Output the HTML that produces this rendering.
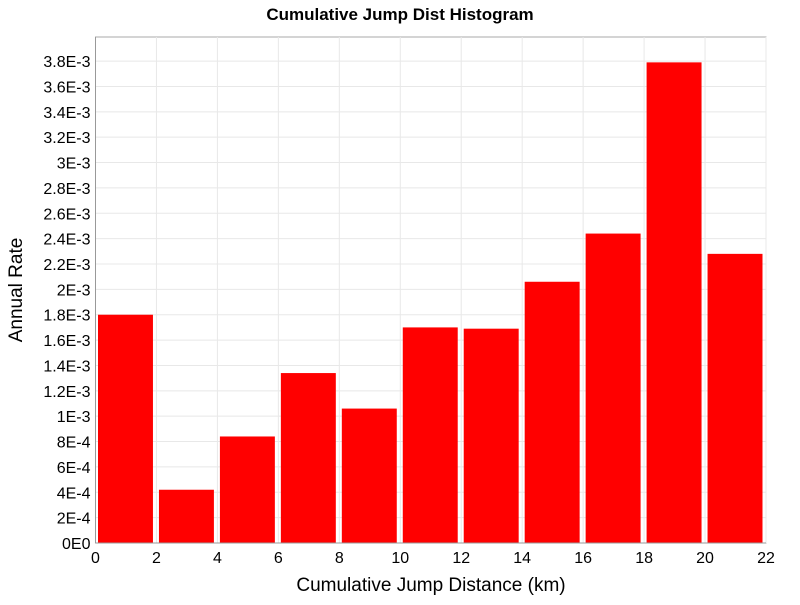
<!DOCTYPE html>
<html><head><meta charset="utf-8"><style>
body{margin:0;background:#fff;}
svg text{font-family:"Liberation Sans","DejaVu Sans",sans-serif;}
</style></head><body>
<svg id="chart" width="800" height="600" xmlns="http://www.w3.org/2000/svg">
<text x="400" y="20" text-anchor="middle" font-size="17" font-weight="bold" font-family="DejaVu Sans, sans-serif">Cumulative Jump Dist Histogram</text>
<g id="grid"></g><g id="bars"></g><g id="axes"></g>
<text x="431" y="591" text-anchor="middle" font-size="19" font-family="DejaVu Sans, sans-serif">Cumulative Jump Distance (km)</text>
<text transform="translate(22,290) rotate(-90)" text-anchor="middle" font-size="19" font-family="DejaVu Sans, sans-serif">Annual Rate</text>
</svg>
<script>
const binStarts=[0,2,4,6,8,10,12,14,16,18,20];
const binWidth=2;
const rates=[1.8e-3,0.42e-3,0.84e-3,1.34e-3,1.06e-3,1.70e-3,1.69e-3,2.06e-3,2.44e-3,3.79e-3,2.28e-3];
const xTicks=[0,2,4,6,8,10,12,14,16,18,20,22];
const yTicks=[0,2e-4,4e-4,6e-4,8e-4,1e-3,1.2e-3,1.4e-3,1.6e-3,1.8e-3,2e-3,2.2e-3,2.4e-3,2.6e-3,2.8e-3,3e-3,3.2e-3,3.4e-3,3.6e-3,3.8e-3];
const yTickLabels=["0E0","2E-4","4E-4","6E-4","8E-4","1E-3","1.2E-3","1.4E-3","1.6E-3","1.8E-3","2E-3","2.2E-3","2.4E-3","2.6E-3","2.8E-3","3E-3","3.2E-3","3.4E-3","3.6E-3","3.8E-3"];
const L=95.5,R=766,T=37,B=543,xMax=22,yMax=3.99e-3;
const NS="http://www.w3.org/2000/svg";
function xs(v){return L+(R-L)*v/xMax;}
function ys(v){return B-(B-T)*v/yMax;}
function mk(t,a,p){const e=document.createElementNS(NS,t);for(const k in a)e.setAttribute(k,a[k]);p.appendChild(e);return e;}
const grid=document.getElementById('grid'),bars=document.getElementById('bars'),axes=document.getElementById('axes');
mk('rect',{x:L,y:T,width:R-L,height:B-T,fill:'#fff',stroke:'#aaa'},grid);
xTicks.forEach(v=>{const l=mk('line',{x1:xs(v),x2:xs(v),y1:T,y2:B,stroke:'#e8e8e8'},grid);


const t=mk('text',{x:xs(v),y:B+20,'text-anchor':'middle','font-size':16},axes);t.textContent=v;

});
yTicks.forEach((v,i)=>{const l=mk('line',{x1:L,x2:R,y1:ys(v),y2:ys(v),stroke:'#e8e8e8'},grid);


const t=mk('text',{x:L-5,y:ys(v)+6,'text-anchor':'end','font-size':16},axes);t.textContent=yTickLabels[i];

});
binStarts.forEach((s,i)=>{const x0=xs(s)+2.5,x1=xs(s+binWidth)-3.5;
const r=mk('rect',{x:x0,y:ys(rates[i]),width:x1-x0,height:B-ys(rates[i]),fill:'#ff0000'},bars);

});
mk('line',{x1:L,x2:L,y1:T,y2:B,stroke:'#999'},axes);
mk('line',{x1:L,x2:R,y1:B,y2:B,stroke:'#999'},axes);
</script>
</body></html>
